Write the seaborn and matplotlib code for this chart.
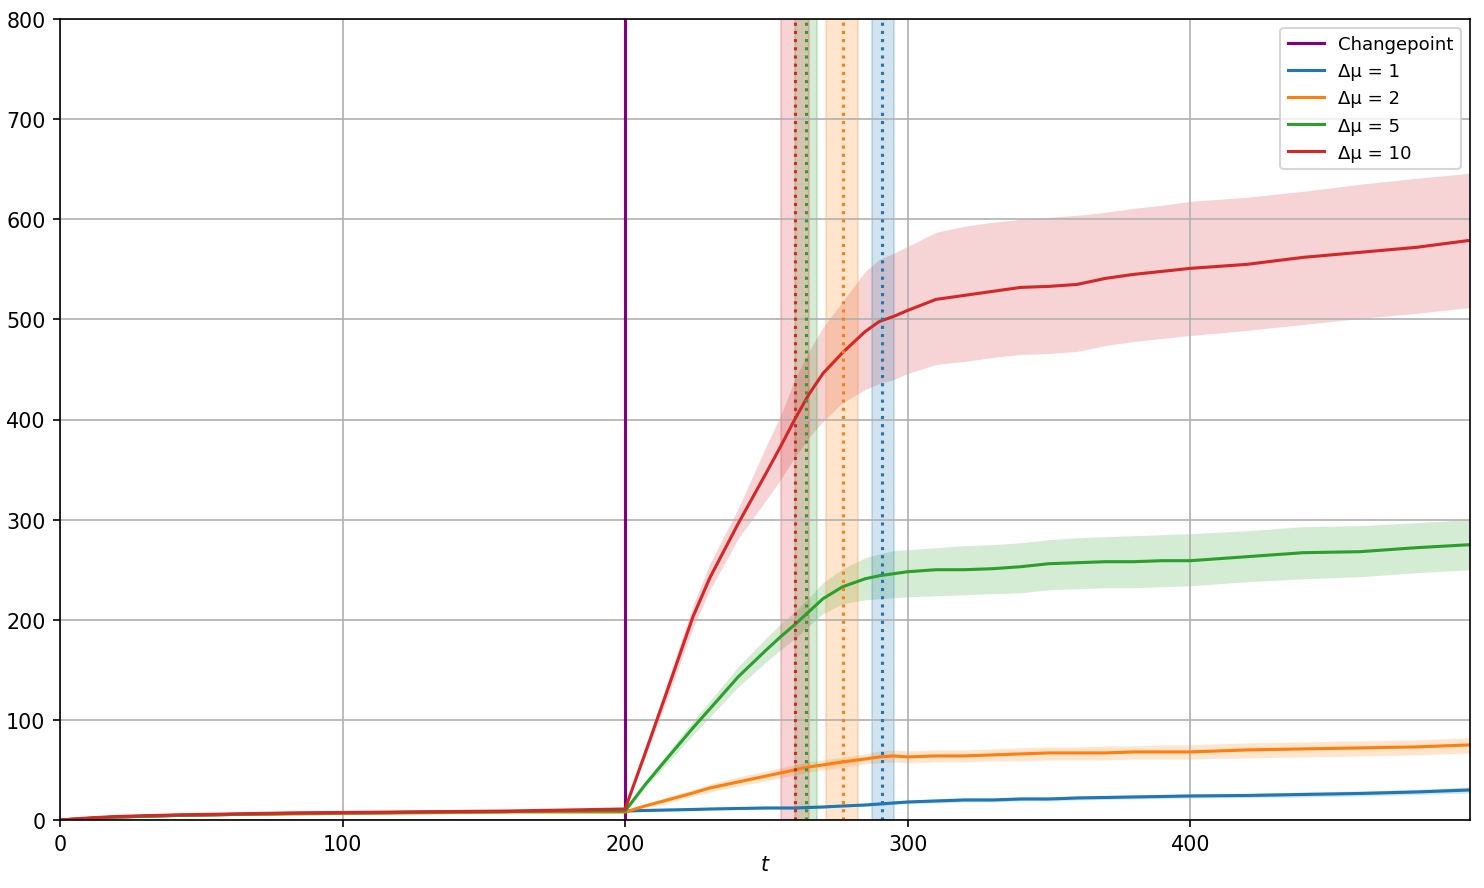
import numpy as np
import pandas as pd
import seaborn as sb
import matplotlib.pyplot as plt

# time points
t = [0, 10, 20, 40, 60, 80, 100, 120, 140, 160, 180, 200, 207, 215, 224, 230, 240, 250, 255, 260, 265, 270, 277, 285, 290, 295, 300, 310, 320, 330, 340, 350, 360, 370, 380, 390, 400, 420, 440, 460, 480, 499]

mu1 = [0, 1.5, 3, 4.5, 5.5, 6.5, 7, 7.5, 8, 8.5, 9, 9, 9.5, 10, 10.5, 11, 11.5, 12, 12, 12, 12.5, 13, 14, 15, 16, 17, 18, 19, 20, 20, 21, 21, 22, 22.5, 23, 23.5, 24, 24.5, 25.5, 26.5, 28, 30]
mu1_lo = [0, 1, 2, 3.5, 4.5, 5.5, 6, 6.5, 7, 7.5, 8, 8, 8.5, 9, 9.5, 10, 10.5, 11, 11, 11, 11.5, 12, 13, 14, 14.5, 15.5, 16.5, 17, 18, 18, 19, 19, 20, 20.5, 21, 21.5, 22, 22.5, 23, 24, 25.5, 27]
mu1_hi = [0, 2, 4, 5.5, 6.5, 7.5, 8, 8.5, 9, 9.5, 10, 10, 10.5, 11, 11.5, 12, 12.5, 13, 13, 13, 13.5, 14, 15, 16, 17.5, 18.5, 19.5, 21, 22, 22, 23, 23, 24, 24.5, 25, 25.5, 26, 26.5, 28, 29, 30.5, 33]

mu2 = [0, 1.5, 3, 4.5, 5.5, 6, 6.5, 7, 7.5, 8, 8, 8, 14, 20, 27, 32, 38, 44, 47, 50, 53, 55, 58, 61, 63, 64, 63, 64, 64, 65, 66, 67, 67, 67, 68, 68, 68, 70, 71, 72, 73, 75]
mu2_lo = [0, 1, 2, 3.5, 4.5, 5, 5.5, 6, 6.5, 7, 7, 7, 12, 17, 24, 28, 34, 39, 42, 45, 48, 50, 53, 56, 57, 58, 57, 58, 58, 59, 59, 60, 60, 60, 61, 61, 61, 62, 63, 64, 65, 67]
mu2_hi = [0, 2, 4, 5.5, 6.5, 7, 7.5, 8, 8.5, 9, 9, 9, 16, 23, 30, 36, 43, 49, 52, 55, 58, 60, 63, 66, 69, 70, 69, 70, 70, 71, 72, 73, 73, 74, 74, 75, 75, 77, 78, 79, 80, 82]

mu5 = [0, 1.5, 3, 4.5, 5.5, 6.5, 7, 7.5, 8, 8.5, 9, 9, 35, 62, 92, 111, 143, 170, 183, 195, 208, 221, 233, 241, 244, 246, 248, 250, 250, 251, 253, 256, 257, 258, 258, 259, 259, 263, 267, 268, 272, 275]
mu5_lo = [0, 1, 2, 3.5, 4.5, 5.5, 6, 6.5, 7, 7.5, 8, 8, 32, 57, 85, 103, 133, 158, 170, 181, 194, 206, 216, 220, 221, 222, 223, 224, 225, 226, 227, 230, 231, 232, 232, 233, 234, 238, 241, 243, 247, 250]
mu5_hi = [0, 2, 4, 5.5, 6.5, 7.5, 8, 8.5, 9, 9.5, 10, 10, 38, 67, 99, 119, 153, 182, 196, 208, 222, 237, 251, 262, 266, 269, 270, 272, 274, 275, 277, 280, 282, 283, 284, 285, 286, 289, 293, 294, 297, 300]

mu10 = [0, 2, 3.5, 5, 6, 7, 7.5, 8, 8.5, 9, 10, 11, 66, 130, 203, 242, 296, 347, 373, 400, 425, 446, 467, 488, 498, 503, 509, 520, 524, 528, 532, 533, 535, 541, 545, 548, 551, 555, 562, 567, 572, 579]
mu10_lo = [0, 1.5, 3, 4.5, 5.5, 6.5, 7, 7.5, 8, 8.5, 9.5, 10, 62, 122, 192, 230, 281, 320, 340, 362, 382, 398, 417, 430, 436, 440, 446, 455, 458, 462, 465, 466, 468, 474, 478, 481, 484, 489, 495, 501, 506, 512]
mu10_hi = [0, 2.5, 4, 5.5, 6.5, 7.5, 8, 8.5, 9, 9.5, 10.5, 12, 70, 138, 214, 256, 311, 374, 404, 440, 468, 492, 518, 548, 560, 566, 573, 587, 593, 597, 600, 602, 604, 607, 611, 614, 618, 622, 628, 635, 641, 646]

# detected changepoints (mean) and their spread
det_mean = [291, 277, 264, 260]
det_lo = [287.5, 271, 260, 255]
det_hi = [295, 282.5, 268, 265]

labels = ['Δμ = 1', 'Δμ = 2', 'Δμ = 5', 'Δμ = 10']
colors = ['tab:blue', 'tab:orange', 'tab:green', 'tab:red']
means = [mu1, mu2, mu5, mu10]
lows = [mu1_lo, mu2_lo, mu5_lo, mu10_lo]
highs = [mu1_hi, mu2_hi, mu5_hi, mu10_hi]

fig, ax = plt.subplots(figsize=(10, 5.99), dpi=148.4)
fig.subplots_adjust(left=0.0404, right=0.9906, top=0.9775, bottom=0.0765)

ax.axvline(200, color='purple', label='Changepoint')
for lab, c, m, lo, hi in zip(labels, colors, means, lows, highs):
    df = pd.DataFrame({'t': t, 'v': m})
    sb.lineplot(data=df, x='t', y='v', color=c, label=lab, ax=ax)
    ax.fill_between(t, lo, hi, color=c, alpha=0.2, linewidth=0)

for c, m, lo, hi in zip(colors, det_mean, det_lo, det_hi):
    ax.axvline(m, color=c, linestyle=':')
    ax.axvspan(lo, hi, color=c, alpha=0.2)

ax.set_xlim(0, 499)
ax.set_ylim(0, 800)
ax.set_xlabel('$t$', labelpad=0)
ax.set_ylabel('')
ax.grid(True)
ax.legend(loc='upper right', fontsize=8.8)

plt.savefig('out.png', dpi=148.4)
